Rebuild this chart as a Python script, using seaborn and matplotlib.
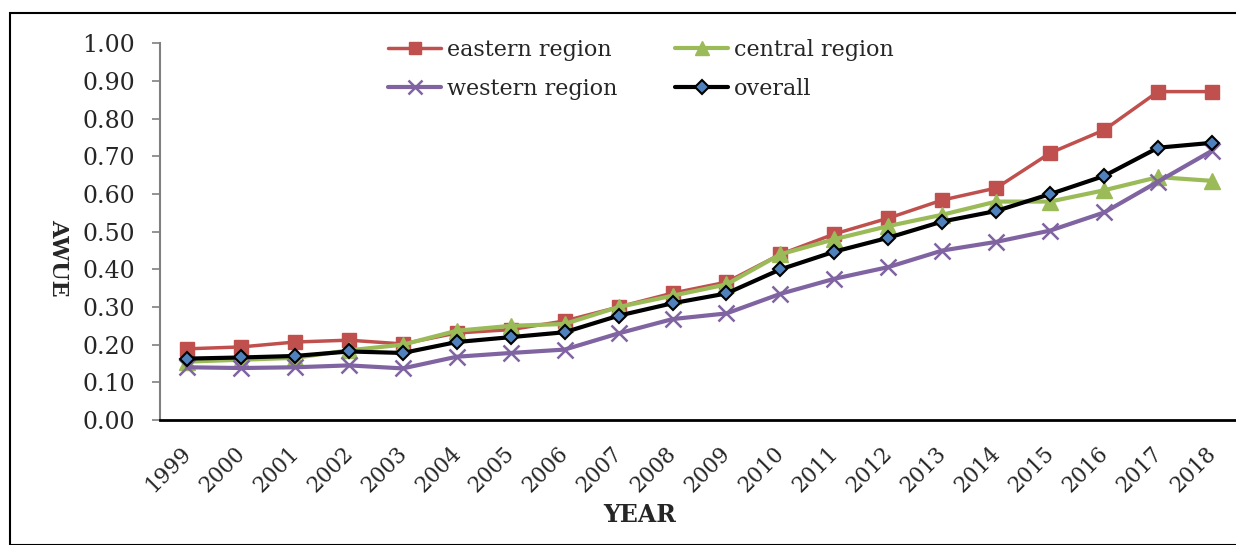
import matplotlib
matplotlib.use("Agg")
import matplotlib.pyplot as plt
import matplotlib.transforms as mtransforms
import seaborn as sns
import pandas as pd
from matplotlib.patches import Rectangle

years = [str(y) for y in range(1999, 2019)]
eastern = [0.189, 0.194, 0.207, 0.212, 0.202, 0.231, 0.240, 0.263, 0.300, 0.337,
           0.366, 0.440, 0.494, 0.536, 0.584, 0.616, 0.709, 0.770, 0.872, 0.872]
central = [0.155, 0.160, 0.165, 0.185, 0.200, 0.237, 0.250, 0.255, 0.300, 0.330,
           0.360, 0.440, 0.480, 0.515, 0.545, 0.580, 0.580, 0.610, 0.645, 0.635]
western = [0.140, 0.138, 0.140, 0.145, 0.137, 0.168, 0.178, 0.187, 0.230, 0.268,
           0.283, 0.335, 0.375, 0.406, 0.450, 0.473, 0.503, 0.551, 0.633, 0.715]
overall = [0.163, 0.166, 0.170, 0.182, 0.178, 0.207, 0.220, 0.233, 0.277, 0.310,
           0.336, 0.400, 0.447, 0.484, 0.527, 0.555, 0.600, 0.648, 0.723, 0.736]

series = {
    "eastern region": eastern,
    "central region": central,
    "western region": western,
    "overall": overall,
}
df = pd.DataFrame(series)
df["year"] = years
df["pos"] = range(len(years))
long = df.melt(id_vars=["year", "pos"], var_name="region", value_name="awue")

sns.set_style("white")
plt.rcParams["font.family"] = ["DejaVu Serif"]

fig = plt.figure(figsize=(12.36, 5.45), dpi=100)
ax = fig.add_axes([160 / 1236, 125 / 545, 1079 / 1236, 376.6 / 545])

styles = {
    "eastern region": dict(color="#C0504D", marker="s", markersize=10, mfc="#C0504D", mec="#C0504D", lw=2.5),
    "central region": dict(color="#9BBB59", marker="^", markersize=11, mfc="#9BBB59", mec="#9BBB59", lw=3),
    "western region": dict(color="#8064A2", marker="x", markersize=11, mfc="#8064A2", mec="#8064A2", mew=1.8, lw=3),
    "overall": dict(color="black", marker="D", markersize=7.5, mfc="#4F81BD", mec="black", mew=1.5, lw=3),
}
for name, st in styles.items():
    sub = long[long["region"] == name]
    sns.lineplot(data=sub, x="pos", y="awue", ax=ax, label=name, color=st["color"],
                 marker=st["marker"], markersize=st["markersize"], markerfacecolor=st["mfc"],
                 markeredgecolor=st["mec"], markeredgewidth=st.get("mew", 1), linewidth=st["lw"])

ax.set_xlim(-0.5, len(years) - 0.5)
ax.set_ylim(0, 1.0)
ax.set_yticks([i / 10 for i in range(11)])
ax.set_yticklabels([f"{i / 10:.2f}" for i in range(11)], fontsize=17)
ax.set_xticks(range(len(years)))
ax.set_xticklabels(years, rotation=45, ha="right", va="top", rotation_mode="anchor", fontsize=15.5)
ax.tick_params(axis="x", length=0, pad=16)
ax.tick_params(axis="y", length=6, width=1.2, color="#808080", left=True, pad=12)
# nudge the rotated year labels left so their ends sit under the points
shift = mtransforms.ScaledTranslation(-7 / 100, 0, fig.dpi_scale_trans)
for lbl in ax.get_xticklabels():
    lbl.set_transform(lbl.get_transform() + shift)
for s in ["top", "right"]:
    ax.spines[s].set_visible(False)
ax.spines["left"].set_color("#808080")
ax.spines["left"].set_linewidth(1.5)
ax.spines["bottom"].set_color("black")
ax.spines["bottom"].set_linewidth(2)
ax.set_xlabel("")
ax.set_ylabel("")

fig.text(640 / 1236, 30 / 545, "YEAR", ha="center", va="center", fontsize=17, fontweight="bold")
fig.text(58 / 1236, 287 / 545, "AWUE", ha="center", va="center", rotation=270, fontsize=16, fontweight="bold")

# row-wise order: eastern, central / western, overall
handles, labels = ax.get_legend_handles_labels()
order = [0, 2, 1, 3]
ax.legend([handles[i] for i in order], [labels[i] for i in order],
          loc="upper left", bbox_to_anchor=(377 / 1236, 517 / 545), bbox_transform=fig.transFigure,
          ncol=2, frameon=False, fontsize=16, handlelength=2.4, columnspacing=2.6,
          labelspacing=0.75, handletextpad=0.25, borderpad=0, markerscale=0.9)

fig.patches.append(Rectangle((10 / 1236, 0), 1.2, 532 / 545, transform=fig.transFigure,
                             fill=False, edgecolor="black", linewidth=1.5))

fig.savefig("out.png", dpi=100)
